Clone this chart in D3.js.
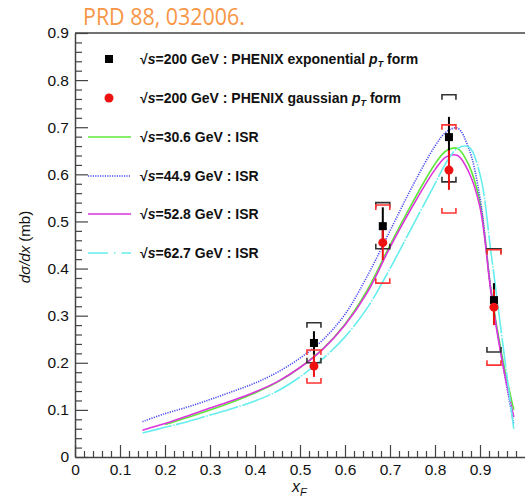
<!DOCTYPE html>
<html>
<head>
<meta charset="utf-8">
<script src="https://cdn.jsdelivr.net/npm/d3@7"></script>
<style>
  body { margin: 0; background: #fff; }
  text { font-family: "Liberation Sans", Arial, sans-serif; }
</style>
</head>
<body>
<div id="chart"></div>
<script>
// Data
const xPoints = [0.531, 0.684, 0.831, 0.931];

const expVal = [0.242, 0.490, 0.679, 0.333];
const expStat = [0.025, 0.040, 0.043, 0.036];
const expSysHi = [0.285, 0.540, 0.769, 0.442];
const expSysLo = [0.200, 0.442, 0.584, 0.223];

const gausVal = [0.193, 0.455, 0.609, 0.318];
const gausStat = [0.023, 0.037, 0.042, 0.038];
const gausSysHi = [0.227, 0.535, 0.705, 0.440];
const gausSysLo = [0.157, 0.369, 0.518, 0.195];

const isrX = [0.15, 0.2, 0.25, 0.3, 0.35, 0.4, 0.45, 0.5, 0.55, 0.6, 0.65, 0.7,
  0.75, 0.8, 0.825, 0.85, 0.875, 0.9, 0.925, 0.95, 0.975];
const isr306 = [null, 0.069, 0.084, 0.100, 0.117, 0.136, 0.159, 0.190, 0.229, 0.282, 0.355, 0.450,
  0.540, 0.622, 0.650, 0.655, 0.620, 0.540, 0.350, 0.210, 0.100];
const isr449 = [0.075, 0.092, 0.106, 0.122, 0.139, 0.157, 0.180, 0.210, 0.248, 0.303, 0.385, 0.480,
  0.575, 0.660, 0.690, 0.698, 0.655, 0.550, 0.350, 0.200, 0.070];
const isr528 = [0.057, 0.071, 0.087, 0.104, 0.120, 0.138, 0.160, 0.190, 0.228, 0.280, 0.350, 0.445,
  0.532, 0.610, 0.637, 0.640, 0.605, 0.530, 0.345, 0.200, 0.085];
const isr627 = [0.051, 0.063, 0.075, 0.089, 0.103, 0.119, 0.140, 0.170, 0.208, 0.255, 0.317, 0.400,
  0.490, 0.580, 0.625, 0.655, 0.658, 0.600, 0.430, 0.245, 0.060];

const xTicks = [0, 0.1, 0.2, 0.3, 0.4, 0.5, 0.6, 0.7, 0.8, 0.9];
const yTicks = [0, 0.1, 0.2, 0.3, 0.4, 0.5, 0.6, 0.7, 0.8, 0.9];

const curves = [
  { label: "30.6", values: isr306, color: "#5ee83a", dash: null, width: 1.6 },
  { label: "44.9", values: isr449, color: "#4b4bf5", dash: "1.2,1.2", width: 1.6 },
  { label: "52.8", values: isr528, color: "#dd33dd", dash: null, width: 1.6 },
  { label: "62.7", values: isr627, color: "#66eeee", dash: "30,1.5,1.5,1.5", width: 1.6 },
];

// Dimensions
const dims = { width: 525, height: 500, left: 75, right: 525, top: 33, bottom: 457 };

const svg = d3.select("#chart").append("svg")
  .attr("width", dims.width)
  .attr("height", dims.height);

// Scales
const xScale = d3.scaleLinear().domain([0, 1]).range([dims.left, dims.right]);
const yScale = d3.scaleLinear().domain([0, 0.9]).range([dims.bottom, dims.top]);

// Title
svg.append("text")
  .attr("x", 83).attr("y", 25)
  .attr("fill", "#f79646")
  .style("font-family", "'Open Sans', sans-serif")
  .style("font-size", "23px")
  .attr("textLength", 162)
  .attr("lengthAdjust", "spacingAndGlyphs")
  .text("PRD 88, 032006.");

// ISR curves
const line = d3.line()
  .defined((d) => d[1] != null)
  .x((d) => xScale(d[0]))
  .y((d) => yScale(d[1]))
  .curve(d3.curveCatmullRom);

curves.forEach((c) => {
  svg.append("path")
    .datum(isrX.map((x, i) => [x, c.values[i]]))
    .attr("d", line)
    .attr("fill", "none")
    .attr("stroke", c.color)
    .attr("stroke-width", c.width)
    .attr("stroke-dasharray", c.dash);
});

// PHENIX points
function drawSeries(vals, stat, sysHi, sysLo, color, bracketColor) {
  const g = svg.append("g");
  xPoints.forEach((x, i) => {
    const cx = xScale(x);
    // systematic brackets
    const hi = yScale(sysHi[i]), lo = yScale(sysLo[i]);
    g.append("path")
      .attr("d", `M${cx - 7},${hi + 5}V${hi}H${cx + 7}V${hi + 5}`)
      .attr("fill", "none").attr("stroke", bracketColor).attr("stroke-width", 1.6);
    g.append("path")
      .attr("d", `M${cx - 7},${lo - 5}V${lo}H${cx + 7}V${lo - 5}`)
      .attr("fill", "none").attr("stroke", bracketColor).attr("stroke-width", 1.6);
    // statistical bar
    g.append("line")
      .attr("x1", cx).attr("x2", cx)
      .attr("y1", yScale(vals[i] + stat[i]))
      .attr("y2", yScale(vals[i] - stat[i]))
      .attr("stroke", color).attr("stroke-width", 2);
  });
  return g;
}

drawSeries(expVal, expStat, expSysHi, expSysLo, "#000", "#333");
drawSeries(gausVal, gausStat, gausSysHi, gausSysLo, "#ee1111", "#f33");

svg.append("g").selectAll("rect")
  .data(xPoints)
  .join("rect")
  .attr("x", (d) => xScale(d) - 4)
  .attr("y", (d, i) => yScale(expVal[i]) - 4)
  .attr("width", 8).attr("height", 8)
  .attr("fill", "#000");

svg.append("g").selectAll("circle")
  .data(xPoints)
  .join("circle")
  .attr("cx", (d) => xScale(d))
  .attr("cy", (d, i) => yScale(gausVal[i]))
  .attr("r", 4.5)
  .attr("fill", "#ee1111");

// Axes
const axisColor = "#444";

const yAxis = d3.axisLeft(yScale)
  .tickValues(yTicks)
  .tickSize(-13)
  .tickSizeOuter(0)
  .tickPadding(6)
  .tickFormat((d) => (d === 0 ? "0" : d3.format(".1f")(d)));
svg.append("g")
  .attr("transform", `translate(${dims.left},0)`)
  .call(yAxis);

const yMinor = d3.range(0, 0.9001, 0.02).filter((d) => Math.abs(d * 10 - Math.round(d * 10)) > 1e-6);
svg.append("g")
  .attr("transform", `translate(${dims.left},0)`)
  .call(d3.axisLeft(yScale).tickValues(yMinor).tickSize(-7).tickSizeOuter(0).tickFormat(""))
  .call((g) => g.select(".domain").remove());

const xAxis = d3.axisBottom(xScale)
  .tickValues(xTicks)
  .tickSize(-12)
  .tickSizeOuter(0)
  .tickPadding(7)
  .tickFormat((d) => (d === 0 ? "0" : d3.format(".1f")(d)));
svg.append("g")
  .attr("transform", `translate(0,${dims.bottom})`)
  .call(xAxis);

const xMinor = d3.range(0, 1.0001, 0.02).filter((d) => Math.abs(d * 10 - Math.round(d * 10)) > 1e-6);
svg.append("g")
  .attr("transform", `translate(0,${dims.bottom})`)
  .call(d3.axisBottom(xScale).tickValues(xMinor).tickSize(-6).tickSizeOuter(0).tickFormat(""))
  .call((g) => g.select(".domain").remove());

svg.selectAll(".tick line").attr("stroke", axisColor).attr("stroke-width", 1.2);
svg.selectAll(".domain").attr("stroke", axisColor).attr("stroke-width", 1.5);
svg.selectAll(".tick text")
  .attr("fill", "#111")
  .style("font-size", "15.5px")
  .style("font-family", "'Liberation Sans', Arial, sans-serif");

// top frame
svg.append("line")
  .attr("x1", dims.left).attr("x2", dims.right)
  .attr("y1", dims.top).attr("y2", dims.top)
  .attr("stroke", axisColor).attr("stroke-width", 1.5);

// Axis titles
const yLab = svg.append("text")
  .attr("transform", `translate(30,${(dims.top + dims.bottom) / 2 + 2}) rotate(-90)`)
  .attr("text-anchor", "middle")
  .attr("fill", "#111")
  .style("font-size", "15px");
yLab.append("tspan").style("font-style", "italic").text("d\u03c3/dx");
yLab.append("tspan").text(" (mb)");

const xLab = svg.append("text")
  .attr("x", 292).attr("y", 492)
  .attr("fill", "#111")
  .style("font-size", "16px")
  .style("font-style", "italic");
xLab.append("tspan").text("x");
xLab.append("tspan").attr("dy", 4).style("font-size", "11px").text("F");

// Legend
const legend = svg.append("g");
const legendX = 140;
const legendRows = [59, 98, 137, 176, 214, 253];

function legendText(y, energy, suffix, pt) {
  const t = legend.append("text")
    .attr("x", legendX).attr("y", y + 5)
    .attr("fill", "#111")
    .style("font-size", "14px")
    .style("font-weight", "bold");
  t.append("tspan").text("\u221a");
  t.append("tspan").style("font-style", "italic").text("s");
  t.append("tspan").text(`=${energy} GeV : ${suffix}`);
  if (pt) {
    t.append("tspan").style("font-style", "italic").text(" p");
    t.append("tspan").attr("dy", 3).style("font-size", "9px").style("font-style", "italic").text("T");
    t.append("tspan").attr("dy", -3).text(` ${pt}`);
  }
}

legend.append("rect")
  .attr("x", 105).attr("y", legendRows[0] - 4)
  .attr("width", 8).attr("height", 8).attr("fill", "#000");
legendText(legendRows[0], "200", "PHENIX exponential", "form");

legend.append("circle")
  .attr("cx", 109).attr("cy", legendRows[1]).attr("r", 4.5).attr("fill", "#ee1111");
legendText(legendRows[1], "200", "PHENIX gaussian", "form");

curves.forEach((c, i) => {
  const y = legendRows[i + 2];
  legend.append("line")
    .attr("x1", 88).attr("x2", 131)
    .attr("y1", y).attr("y2", y)
    .attr("stroke", c.color)
    .attr("stroke-width", c.width)
    .attr("stroke-dasharray", c.dash ? (i === 3 ? "20,6,1.5,6" : c.dash) : null);
  legendText(y, c.label, "ISR", null);
});
</script>
</body>
</html>
